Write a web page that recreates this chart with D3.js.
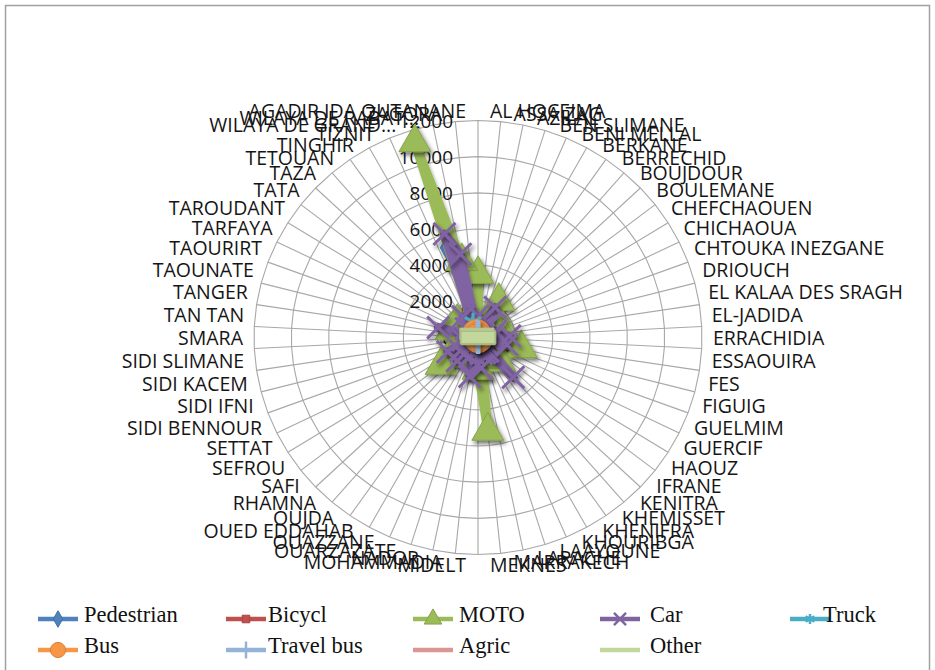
<!DOCTYPE html>
<html>
<head>
<meta charset="utf-8">
<script src="https://cdn.jsdelivr.net/npm/d3@7"></script>
<style>
  body { margin: 0; background: #fff; }
  svg { display: block; }
  .cat { font-family: "Open Sans", sans-serif; font-size: 19.5px; fill: #151515; }
  .tick { font-family: "Open Sans", sans-serif; font-size: 19px; fill: #151515; }
  .leg { font-family: "Liberation Serif", "Times New Roman", serif; font-size: 22.5px; fill: #111; }
</style>
</head>
<body>
<svg id="chart" width="935" height="670"></svg>
<script>
// Provinces / prefectures (radar categories, clockwise from the top)
const provinces = [
  "AGADIR IDA OUTANANE", "AL HOCEIMA", "ASSA ZAG", "AZILAL", "BEN SLIMANE", "BENI MELLAL",
  "BERKANE", "BERRECHID", "BOUJDOUR", "BOULEMANE", "CHEFCHAOUEN", "CHICHAOUA",
  "CHTOUKA INEZGANE", "DRIOUCH", "EL KALAA DES SRAGH", "EL-JADIDA", "ERRACHIDIA", "ESSAOUIRA",
  "FES", "FIGUIG", "GUELMIM", "GUERCIF", "HAOUZ", "IFRANE", "KENITRA", "KHEMISSET",
  "KHENIFRA", "KHOURIBGA", "LAAYOUNE", "LARACHE", "MARRAKECH", "MEKNES", "MIDELT",
  "MOHAMMADIA", "NADOR", "OUARZAZATE", "OUAZZANE", "OUED EDDAHAB", "OUJDA", "RHAMNA",
  "SAFI", "SEFROU", "SETTAT", "SIDI BENNOUR", "SIDI IFNI", "SIDI KACEM", "SIDI SLIMANE",
  "SMARA", "TAN TAN", "TANGER", "TAOUNATE", "TAOURIRT", "TARFAYA", "TAROUDANT", "TATA",
  "TAZA", "TETOUAN", "TINGHIR", "TIZNIT", "WILAYA DE GRAND...", "WILAYA DE RABAT...", "ZAGORA"
];

// Accidents by user / vehicle type, one value per province
const pedestrian = [900,150,30,120,200,450,180,300,20,40,130,120,400,90,350,500,200,180,1100,40,60,50,200,60,800,300,150,350,150,300,1300,700,80,500,400,100,60,40,600,100,450,120,400,150,40,250,150,20,40,1000,100,80,10,300,20,200,500,80,120,5200,1800,50];
const bicycl     = [200,20,5,30,60,150,120,150,3,5,20,40,200,20,150,200,60,80,300,30,10,15,60,10,350,120,40,100,30,120,500,250,20,150,150,30,20,10,250,40,200,40,150,60,10,120,80,5,10,250,20,30,2,150,5,50,150,30,60,1500,600,20];
const moto       = [3500,600,100,700,800,2300,900,1200,50,200,500,700,1400,400,1500,1400,900,1000,2400,300,300,300,1100,200,1800,1100,800,1300,500,1000,5200,1800,400,900,1200,500,300,200,1400,700,2500,500,1300,900,200,1000,800,50,200,1500,500,400,30,1400,100,800,1000,400,600,11300,4300,300];
const car        = [1200,400,50,300,600,1900,700,900,60,100,300,300,1000,200,800,1700,700,600,1600,150,250,150,600,150,2900,900,500,900,500,900,1700,1500,200,2200,900,400,200,200,1700,400,1200,300,1800,500,100,800,600,60,200,2200,300,300,30,800,80,700,1400,300,500,6000,4700,200];
const truck      = [300,60,20,60,150,250,120,200,20,30,50,80,250,50,200,300,120,120,350,40,60,50,100,30,350,150,100,200,80,150,400,300,50,250,150,80,40,40,200,80,250,60,250,100,20,120,100,20,40,450,50,60,10,200,20,100,200,60,100,900,500,50];
const bus        = [60,10,5,10,15,20,10,20,2,3,5,8,30,5,15,20,10,10,50,3,5,4,10,3,30,15,10,15,8,15,70,40,5,20,15,8,5,4,30,8,20,5,15,8,3,10,8,2,5,50,5,5,1,15,2,10,20,5,10,250,100,5];
const travelBus  = [40,5,3,8,10,15,6,10,2,2,4,6,20,3,10,12,8,8,30,2,4,3,8,2,20,10,6,10,6,8,50,25,4,10,8,6,3,3,20,5,15,3,10,5,2,6,5,2,4,30,3,3,1,10,2,6,12,3,6,120,60,3];
const agric      = [20,5,2,10,8,15,10,12,1,2,4,8,15,3,20,15,5,6,10,2,3,2,10,2,20,10,6,15,2,8,25,15,3,5,6,4,3,1,8,10,15,3,15,10,1,10,8,1,2,8,4,3,1,15,1,5,6,3,5,20,10,2];
const other      = [50,10,3,10,15,20,10,20,2,3,6,8,25,5,15,20,10,10,40,3,5,4,12,3,30,12,8,15,6,12,60,30,4,20,10,6,4,3,20,6,15,4,15,8,2,10,8,2,4,40,4,5,1,15,2,8,20,4,10,200,80,4];

const ringTicks = [0, 2000, 4000, 6000, 8000, 10000, 12000];

const seriesNames  = ["Pedestrian", "Bicycl", "MOTO", "Car", "Truck", "Bus", "Travel bus", "Agric", "Other"];
const seriesValues = [pedestrian, bicycl, moto, car, truck, bus, travelBus, agric, other];
const seriesColors = ["#4F81BD", "#C0504D", "#9BBB59", "#8064A2", "#4BACC6", "#F79646", "#95B3D7", "#D99694", "#C3D69B"];
const seriesMarker = ["diamond", "square", "triangle", "x", "asterisk", "circle", "plus", "dash", "bar"];

const svg = d3.select("#chart");
const N = provinces.length;
const cx = 478, cy = 337.5;

// radial scales (the plot area is slightly wider than tall)
const rX = d3.scaleLinear().domain([0, 12000]).range([0, 224]);
const rY = d3.scaleLinear().domain([0, 12000]).range([0, 217]);
const ang = d3.scaleLinear().domain([0, N]).range([0, 2 * Math.PI]);

const px = (v, i) => cx + rX(v) * Math.sin(ang(i));
const py = (v, i) => cy - rY(v) * Math.cos(ang(i));

// outer chart frame
svg.append("rect")
  .attr("x", 5.5).attr("y", 5.5).attr("width", 924).attr("height", 700)
  .attr("fill", "#fff").attr("stroke", "#a0a0a0").attr("stroke-width", 1.5);

const defs = svg.append("defs");
const sh = defs.append("filter").attr("id", "shadow")
  .attr("x", "-50%").attr("y", "-50%").attr("width", "200%").attr("height", "200%");
sh.append("feDropShadow").attr("dx", 2).attr("dy", 3).attr("stdDeviation", 2)
  .attr("flood-color", "#000").attr("flood-opacity", 0.55);
const lsh = defs.append("filter").attr("id", "lshadow")
  .attr("x", "-20%").attr("y", "-20%").attr("width", "140%").attr("height", "140%");
lsh.append("feDropShadow").attr("dx", 1.5).attr("dy", 2).attr("stdDeviation", 1.5)
  .attr("flood-color", "#000").attr("flood-opacity", 0.3);

// grid: rings and spokes
const grid = svg.append("g").attr("stroke", "#a8a8a8").attr("fill", "none").attr("stroke-width", 1.1);
const ringLine = d3.line().curve(d3.curveLinearClosed);
ringTicks.slice(1).forEach(t => {
  grid.append("path").attr("d", ringLine(d3.range(N).map(i => [px(t, i), py(t, i)])));
});
d3.range(N).forEach(i => {
  grid.append("line")
    .attr("x1", cx).attr("y1", cy)
    .attr("x2", px(12000, i)).attr("y2", py(12000, i));
});

// category labels
const labX = 235, labY = 227;
svg.append("g").selectAll("text").data(provinces).join("text")
  .attr("class", "cat")
  .each(function (d, i) {
    const a = ang(i) - Math.PI / N;
    const s = Math.sin(a);
    d3.select(this)
      .attr("x", cx + labX * s)
      .attr("y", cy - labY * Math.cos(a))
      .attr("text-anchor", s > 0.02 ? "start" : (s < -0.02 ? "end" : "middle"))
      .attr("dominant-baseline", "central");
  })
  .text(d => d);

// value axis labels
svg.append("g").selectAll("text").data(ringTicks).join("text")
  .attr("class", "tick")
  .attr("x", cx - 25)
  .attr("y", d => cy - rY(d))
  .attr("text-anchor", "end")
  .attr("dominant-baseline", "central")
  .text(d => d);

// marker shapes
function markerPath(kind, scale) {
  const k = scale;
  switch (kind) {
    case "diamond":  return { d: d3.symbol(d3.symbolDiamond, 260 * k * k)(), fill: true };
    case "square":   return { d: d3.symbol(d3.symbolSquare, 190 * k * k)(), fill: true };
    case "triangle": return { d: d3.symbol(d3.symbolTriangle, 440 * k * k)(), fill: true };
    case "circle":   return { d: d3.symbol(d3.symbolCircle, 600 * k * k)(), fill: true };
    case "x":        return { d: d3.symbol(d3.symbolX, 320 * k * k)(), fill: false, w: 3 };
    case "asterisk": return { d: d3.symbol(d3.symbolAsterisk, 240 * k * k)(), fill: false, w: 3 };
    case "plus":     return { d: d3.symbol(d3.symbolPlus, 320 * k * k)(), fill: false, w: 3.5 };
    case "dash": {
      const w = 28 * k, h = 5 * k;
      return { d: `M${-w / 2},${-h / 2}h${w}v${h}h${-w}Z`, fill: true };
    }
    case "bar": {
      const w = 34 * k, h = 12 * k;
      return { d: `M${-w / 2},${-h / 2}h${w}v${h}h${-w}Z`, fill: true };
    }
  }
}

// series lines and markers
const seriesLine = d3.line().curve(d3.curveLinearClosed);
seriesNames.forEach((name, s) => {
  const vals = seriesValues[s];
  const col = seriesColors[s];
  const g = svg.append("g").attr("class", "series");
  g.append("path")
    .attr("d", seriesLine(vals.map((v, i) => [px(v, i), py(v, i)])))
    .attr("fill", "none")
    .attr("stroke", col)
    .attr("stroke-width", 9)
    .attr("stroke-linejoin", "round")
    .attr("filter", "url(#lshadow)");
  const m = markerPath(seriesMarker[s], 1);
  g.append("g").attr("filter", "url(#shadow)")
    .selectAll("path").data(vals).join("path")
    .attr("transform", (v, i) => `translate(${px(v, i)},${py(v, i)})`)
    .attr("d", m.d)
    .attr("fill", m.fill ? col : "none")
    .attr("stroke", m.fill ? d3.color(col).darker(0.4) : col)
    .attr("stroke-width", m.fill ? 1 : m.w);
});

// legend
const legLineX = [38, 226, 413, 600, 790];
const legTextX = [84, 268, 459, 650, 823];
const legRowY  = [619, 650];
const legend = svg.append("g");
seriesNames.forEach((name, s) => {
  const row = s < 5 ? 0 : 1;
  const col = s < 5 ? s : s - 5;
  const x0 = legLineX[col], y0 = legRowY[row];
  const c = seriesColors[s];
  legend.append("line")
    .attr("x1", x0).attr("x2", x0 + 40).attr("y1", y0).attr("y2", y0)
    .attr("stroke", c).attr("stroke-width", 4.5);
  const kind = seriesMarker[s];
  if (kind !== "dash" && kind !== "bar") {
    const m = markerPath(kind, 0.55);
    legend.append("path")
      .attr("transform", `translate(${x0 + 20},${y0})`)
      .attr("d", m.d)
      .attr("fill", m.fill ? c : "none")
      .attr("stroke", m.fill ? d3.color(c).darker(0.4) : c)
      .attr("stroke-width", m.fill ? 1 : 2.5);
  }
  legend.append("text")
    .attr("class", "leg")
    .attr("x", legTextX[col])
    .attr("y", y0 - 5)
    .attr("dominant-baseline", "central")
    .text(name);
});
</script>
</body>
</html>
